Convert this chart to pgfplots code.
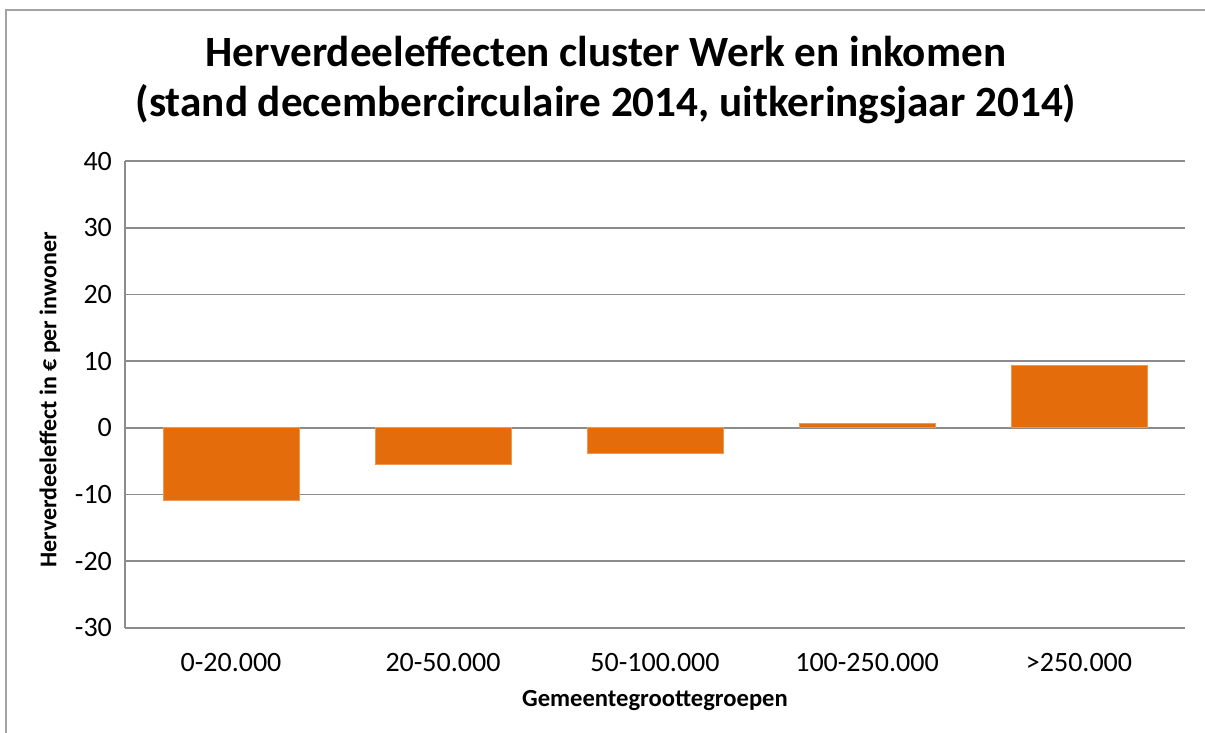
\documentclass[border=0pt]{standalone}
\usepackage{pgfplots}
\pgfplotsset{compat=1.18}
\usepackage{fontspec}
\setmainfont{Carlito}
\definecolor{barorange}{HTML}{E46C0A}
\definecolor{gridgray}{HTML}{8C8C8C}
\begin{document}
\begin{tikzpicture}
\path[use as bounding box] (0pt,0pt) rectangle (602.5pt,366.5pt);
\draw[gridgray!80, line width=0.9pt] (3pt,-2pt) -- (3pt,361.5pt) -- (605pt,361.5pt);
\node[font=\fontsize{21.6}{26}\selectfont\bfseries, anchor=base] at (303pt,333pt) {Herverdeeleffecten cluster Werk en inkomen};
\node[font=\fontsize{21.6}{26}\selectfont\bfseries, anchor=base] at (303pt,308pt) {(stand decembercirculaire 2014, uitkeringsjaar 2014)};
\begin{axis}[
  at={(62.5pt,52.5pt)}, anchor=south west,
  scale only axis, width=530pt, height=233.5pt,
  xmin=-0.5, xmax=4.5, ymin=-30, ymax=40,
  ytick={-30,-20,...,40},
  xtick={0,1,2,3,4},
  xticklabels={0-20.000,20-50.000,50-100.000,100-250.000,>250.000},
  axis x line*=bottom, axis y line*=left,
  axis line style={gridgray, line width=0.9pt, -},
  ymajorgrids, grid style={gridgray, line width=0.9pt},
  major tick length=0pt,
  /pgf/number format/assume math mode=true,
  ticklabel style={font=\fontsize{14}{16}\selectfont},
  xticklabel style={yshift=-9pt},
  yticklabel style={xshift=-3pt},
  xlabel={Gemeentegroottegroepen},
  ylabel={Herverdeeleffect in € per inwoner},
  xlabel style={font=\fontsize{12.3}{14}\selectfont\bfseries, at={(axis description cs:0.5,-0.155)}, anchor=center},
  ylabel style={font=\fontsize{12}{14}\selectfont\bfseries, at={(axis description cs:-0.0708,0.488)}, anchor=center, rotate=0},
  ybar, bar width=68pt,
]
\addplot[fill=barorange, draw=barorange!70!white, line width=0.4pt] coordinates {(0,-10.9) (1,-5.5) (2,-3.9) (3,0.6) (4,9.4)};
\end{axis}
\end{tikzpicture}
\end{document}
